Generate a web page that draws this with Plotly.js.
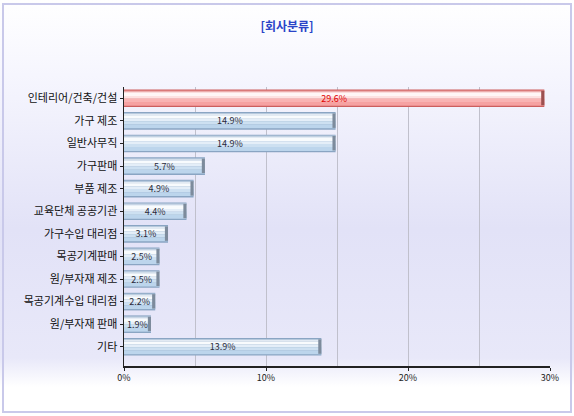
<!DOCTYPE html>
<html>
<head>
<meta charset="utf-8">
<script src="https://cdn.plot.ly/plotly-3.0.1.min.js"></script>
<style>html,body{margin:0;padding:0;background:#fff;}#chart{width:574px;height:416px;}</style>
</head>
<body>
<div id="chart"></div>
<script>
// ---- data ----
const categories = ["인테리어/건축/건설","가구 제조","일반사무직","가구판매","부품 제조","교육단체 공공기관","가구수입 대리점","목공기계판매","원/부자재 제조","목공기계수입 대리점","원/부자재 판매","기타"];
const values = [29.6, 14.9, 14.9, 5.7, 4.9, 4.4, 3.1, 2.5, 2.5, 2.2, 1.9, 13.9];
const valueLabels = values.map(v => v.toFixed(1) + "%");
const xTickVals = [0, 10, 20, 30];
const xTickText = ["0%", "10%", "20%", "30%"];
const titleText = "[회사분류]";

// ---- styling ----
const font = "'Noto Sans CJK KR', 'Noto Sans', sans-serif";
const isRed = categories.map((c, i) => i === 0);
const pick = (red, blue) => isRed.map(r => r ? red : blue);
const txtCol = pick("#e00000", "#2a2a3a");

function layer(offset, width, colors, extra) {
  return Object.assign({
    type: "bar", orientation: "h", x: values, y: categories,
    offset: offset, width: width,
    marker: {color: colors, line: {width: 0}},
    hoverinfo: "skip", showlegend: false
  }, extra || {});
}

// gradient bands across the bar thickness (top -> bottom)
const bands = [
  [-0.39, 0.78, pick("#cc5e5e", "#8aa5c3")],
  [-0.35, 0.06, pick("#e79494", "#b6c9dd")],
  [-0.30, 0.07, pick("#f8d4d4", "#e2eaf3")],
  [-0.24, 0.14, pick("#fff6f6", "#f8fbfd")],
  [-0.10, 0.12, pick("#fde2e2", "#e4eef8")],
  [ 0.02, 0.14, pick("#f9b4b4", "#cde0f1")],
  [ 0.16, 0.17, pick("#f6a2a2", "#bcd5ec")]
];
const traces = bands.map(b => layer(b[0], b[1], b[2]));

// end caps of the bars
traces.push({
  type: "bar", orientation: "h", y: categories,
  x: values.map(() => 0.22), base: values.map(v => v - 0.22),
  offset: -0.33, width: 0.64,
  marker: {color: pick("#9c5050", "#7d8b9c"), line: {width: 0}},
  hoverinfo: "skip", showlegend: false
});

// value labels
traces.push(layer(-0.39, 0.78, "rgba(0,0,0,0)", {
  text: valueLabels, textposition: "inside", insidetextanchor: "middle",
  textangle: 0, constraintext: "none", cliponaxis: false,
  textfont: {family: font, size: 9, color: txtCol}
}));

const bgSvg = "<svg xmlns='http://www.w3.org/2000/svg' width='10' height='100' preserveAspectRatio='none'>" +
  "<defs><linearGradient id='g' x1='0' y1='0' x2='0' y2='1'>" +
  "<stop offset='0' stop-color='#ffffff'/><stop offset='0.18' stop-color='#f6f6fe'/>" +
  "<stop offset='0.55' stop-color='#e2e2f7'/><stop offset='0.86' stop-color='#e8e8f9'/>" +
  "<stop offset='0.93' stop-color='#ffffff'/><stop offset='1' stop-color='#ffffff'/>" +
  "</linearGradient></defs><rect width='10' height='100' fill='url(#g)'/></svg>";

const L = 124, R = 24, T = 87, B = 50, W = 574, H = 416;
const pw = W - L - R, ph = H - T - B;

const layout = {
  width: W, height: H,
  margin: {l: L, r: R, t: T, b: B, pad: 0},
  paper_bgcolor: "#ffffff",
  plot_bgcolor: "rgba(0,0,0,0)",
  barmode: "overlay",
  title: {text: titleText, x: 0.5, xref: "container", y: 1 - 27 / H, yanchor: "middle",
          font: {family: font, size: 12, color: "#2a44c8", weight: "bold"}},
  xaxis: {
    range: [0, 30], tickvals: xTickVals, ticktext: xTickText,
    showgrid: true, gridcolor: "#c0c0cc", gridwidth: 1,
    minor: {dtick: 5, showgrid: true, gridcolor: "#c0c0cc"},
    showline: true, linecolor: "#222", linewidth: 1.5,
    ticks: "outside", ticklen: 3, tickcolor: "#222",
    tickfont: {family: font, size: 9, color: "#222"},
    zeroline: false, fixedrange: true
  },
  yaxis: {
    range: [11.85, -0.5], type: "category",
    showline: true, linecolor: "#222", linewidth: 1.5,
    ticks: "outside", ticklen: 3, tickcolor: "#222",
    tickfont: {family: font, size: 11, color: "#111"},
    showgrid: false, zeroline: false, fixedrange: true
  },
  images: [{
    source: "data:image/svg+xml;charset=utf-8," + encodeURIComponent(bgSvg),
    xref: "paper", yref: "paper",
    x: -L / pw, y: 1 + T / ph, sizex: W / pw, sizey: H / ph,
    sizing: "stretch", layer: "below", xanchor: "left", yanchor: "top"
  }],
  shapes: [{
    type: "rect", xref: "paper", yref: "paper",
    x0: (3 - L) / pw, x1: (571 - L) / pw,
    y0: 1 + (T - 412) / ph, y1: 1 + (T - 4) / ph,
    line: {color: "#c9c9ea", width: 2}, fillcolor: "rgba(0,0,0,0)", layer: "above"
  }]
};

Plotly.newPlot("chart", traces, layout, {displayModeBar: false, staticPlot: true});
</script>
</body>
</html>
